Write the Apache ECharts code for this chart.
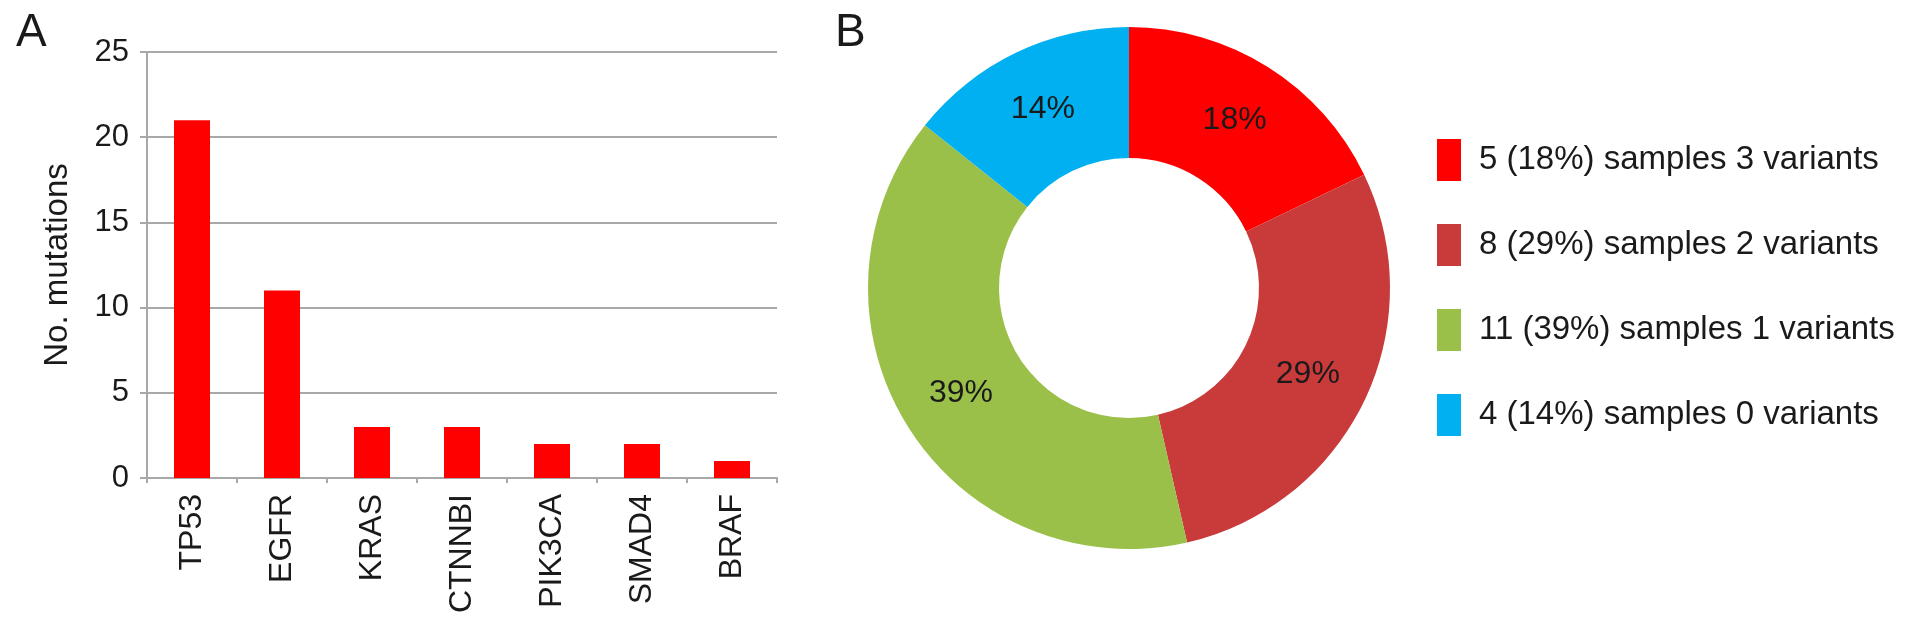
<!DOCTYPE html>
<html>
<head>
<meta charset="utf-8">
<script src="https://cdn.jsdelivr.net/npm/echarts@6/dist/echarts.min.js"></script>
<style>
html,body{margin:0;padding:0;background:#fff;}
#c{width:1913px;height:627px;}
</style>
</head>
<body>
<div id="c"></div>
<script>
// ---- data ----
const genes = ['TP53', 'EGFR', 'KRAS', 'CTNNBI', 'PIK3CA', 'SMAD4', 'BRAF'];
const mutationCounts = [21, 11, 3, 3, 2, 2, 1];
const yTicks = [0, 5, 10, 15, 20, 25];
const sampleCounts = [5, 8, 11, 4];
const legendLabels = [
  '5 (18%) samples 3 variants',
  '8 (29%) samples 2 variants',
  '11 (39%) samples 1 variants',
  '4 (14%) samples 0 variants'
];
const sliceColors = ['#ff0000', '#c93a3b', '#9bc04a', '#00b0f0'];

const FONT = "'Liberation Sans', Arial, Helvetica, sans-serif";
const TXT = '#1a1a1a';
const GRAY = '#a8a8a8';

const chart = echarts.init(document.getElementById('c'));
chart.setOption({
  animation: false,
  textStyle: { fontFamily: FONT, color: TXT },
  title: [
    { text: 'A', left: 11, top: 5, textStyle: { fontSize: 46, fontWeight: 'normal', color: TXT, fontFamily: FONT } },
    { text: 'B', left: 830, top: 5, textStyle: { fontSize: 46, fontWeight: 'normal', color: TXT, fontFamily: FONT } }
  ],
  grid: { left: 147, right: 1913 - 777, top: 52, bottom: 627 - 478, containLabel: false },
  xAxis: {
    type: 'category',
    data: genes,
    axisLine: { lineStyle: { color: GRAY, width: 2 } },
    axisTick: { show: true, alignWithLabel: false, length: 5, lineStyle: { color: GRAY, width: 2 } },
    axisLabel: { rotate: 90, fontSize: 32, color: TXT, margin: 16, fontFamily: FONT }
  },
  yAxis: {
    type: 'value',
    min: yTicks[0],
    max: yTicks[yTicks.length - 1],
    interval: yTicks[1] - yTicks[0],
    name: 'No. mutations',
    nameLocation: 'middle',
    nameRotate: 90,
    nameGap: 73,
    nameTextStyle: { fontSize: 33, color: TXT, fontFamily: FONT },
    axisLine: { show: true, lineStyle: { color: GRAY, width: 2 } },
    axisTick: { show: true, length: 7, lineStyle: { color: GRAY, width: 2 } },
    axisLabel: { fontSize: 31, color: TXT, margin: 18, fontFamily: FONT },
    splitLine: { lineStyle: { color: GRAY, width: 2 } }
  },
  legend: {
    orient: 'vertical',
    left: 1437,
    top: 139,
    padding: 0,
    icon: 'rect',
    itemWidth: 24,
    itemHeight: 42,
    itemGap: 43,
    selectedMode: false,
    data: legendLabels,
    textStyle: { fontSize: 33, color: TXT, fontFamily: FONT, padding: [0, 0, 0, 13] }
  },
  series: [
    {
      type: 'bar',
      data: mutationCounts,
      barWidth: 36,
      itemStyle: { color: '#ff0000' }
    },
    {
      type: 'pie',
      center: [1129, 288],
      radius: [130, 261],
      startAngle: 90,
      clockwise: true,
      percentPrecision: 0,
      avoidLabelOverlap: false,
      label: {
        show: true,
        position: 'inside',
        formatter: '{d}%',
        fontSize: 32,
        color: TXT,
        fontFamily: FONT
      },
      labelLine: { show: false },
      itemStyle: { borderWidth: 0 },
      emphasis: { disabled: true },
      data: sampleCounts.map((v, i) => ({ value: v, name: legendLabels[i], itemStyle: { color: sliceColors[i] } }))
    }
  ]
});
</script>
</body>
</html>
